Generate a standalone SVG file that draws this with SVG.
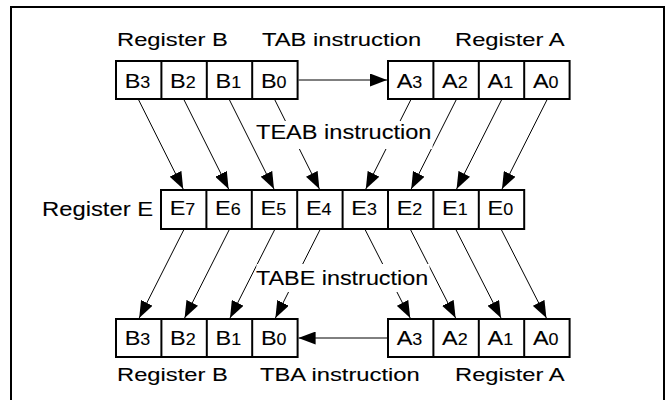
<svg xmlns="http://www.w3.org/2000/svg" width="671" height="400" viewBox="0 0 671 400">
<style>
.frame{fill:none;stroke:#000;stroke-width:2}
.box{fill:#fff;stroke:#000;stroke-width:2}
.div{stroke:#000;stroke-width:2}
text{stroke:#000;stroke-width:0.1}
.lbl{font-family:"Liberation Sans",Arial,sans-serif;font-size:19px;fill:#000}
.ins{font-family:"Liberation Sans",Arial,sans-serif;font-size:20.5px;fill:#000}
.cell{font-family:"Liberation Sans",Arial,sans-serif;font-size:21px;fill:#000;text-anchor:middle}
.sub{font-size:16px}
.ln{stroke:#000;stroke-width:1;fill:none;marker-end:url(#ah)}
.ko{fill:#fff;stroke:none}
</style>
<defs>
<marker id="ah" markerUnits="userSpaceOnUse" markerWidth="17" markerHeight="13" refX="17" refY="6.5" orient="auto">
<path d="M0,0 L17,6.5 L0,13 z" fill="#000"/>
</marker>
</defs>
<rect x="0" y="0" width="671" height="400" fill="#fff"/>
<rect class="frame" x="11" y="7" width="653" height="396"/>

<g id="connectors">
<line class="ln" x1="298.6" y1="80" x2="387" y2="80"/>
<line class="ln" x1="387" y1="338" x2="298.6" y2="338"/>
<line class="ln" x1="138.7" y1="100" x2="183.2" y2="189"/>
<line class="ln" x1="184.1" y1="100" x2="228.6" y2="189"/>
<line class="ln" x1="229.5" y1="100" x2="274" y2="189"/>
<line class="ln" x1="274.9" y1="100" x2="319.4" y2="189"/>
<line class="ln" x1="410.7" y1="100" x2="365.8" y2="189"/>
<line class="ln" x1="456.1" y1="100" x2="411.2" y2="189"/>
<line class="ln" x1="501.5" y1="100" x2="456.6" y2="189"/>
<line class="ln" x1="546.9" y1="100" x2="502" y2="189"/>
<line class="ln" x1="183.7" y1="230" x2="139.2" y2="318"/>
<line class="ln" x1="229.1" y1="230" x2="184.6" y2="318"/>
<line class="ln" x1="274.5" y1="230" x2="230" y2="318"/>
<line class="ln" x1="319.9" y1="230" x2="275.4" y2="318"/>
<line class="ln" x1="365.3" y1="230" x2="410.2" y2="318"/>
<line class="ln" x1="410.7" y1="230" x2="455.6" y2="318"/>
<line class="ln" x1="456.1" y1="230" x2="501" y2="318"/>
<line class="ln" x1="501.5" y1="230" x2="546.4" y2="318"/>
</g>

<g id="labels">
<text class="lbl" transform="translate(117,46) scale(1.25,1)">Register B</text>
<text class="lbl" transform="translate(262,46) scale(1.25,1)">TAB instruction</text>
<text class="lbl" transform="translate(455,46) scale(1.25,1)">Register A</text>
<rect class="ko" x="256.5" y="121" width="176" height="28"/>
<text class="ins" transform="translate(256,139) scale(1.15,1)">TEAB instruction</text>
<text class="lbl" transform="translate(42,215.5) scale(1.19,1)" style="font-size:20px">Register E</text>
<rect class="ko" x="256.5" y="264" width="173" height="28"/>
<text class="ins" transform="translate(256,284.5) scale(1.14,1)">TABE instruction</text>
<text class="lbl" transform="translate(117,381) scale(1.25,1)">Register B</text>
<text class="lbl" transform="translate(260,381) scale(1.25,1)">TBA instruction</text>
<text class="lbl" transform="translate(455,381) scale(1.25,1)">Register A</text>
</g>

<g id="regB-top">
<rect class="box" x="116" y="61" width="181.6" height="38"/>
<line class="div" x1="161.4" y1="61" x2="161.4" y2="99"/>
<line class="div" x1="206.8" y1="61" x2="206.8" y2="99"/>
<line class="div" x1="252.2" y1="61" x2="252.2" y2="99"/>
<text class="cell" transform="translate(137.5,88) scale(1.12,1)">B<tspan class="sub">3</tspan></text>
<text class="cell" transform="translate(182.9,88) scale(1.12,1)">B<tspan class="sub">2</tspan></text>
<text class="cell" transform="translate(228.3,88) scale(1.12,1)">B<tspan class="sub">1</tspan></text>
<text class="cell" transform="translate(273.7,88) scale(1.12,1)">B<tspan class="sub">0</tspan></text>
</g>

<g id="regA-top">
<rect class="box" x="388" y="61" width="181.6" height="38"/>
<line class="div" x1="433.4" y1="61" x2="433.4" y2="99"/>
<line class="div" x1="478.8" y1="61" x2="478.8" y2="99"/>
<line class="div" x1="524.2" y1="61" x2="524.2" y2="99"/>
<text class="cell" transform="translate(409.5,88) scale(1.12,1)">A<tspan class="sub">3</tspan></text>
<text class="cell" transform="translate(454.9,88) scale(1.12,1)">A<tspan class="sub">2</tspan></text>
<text class="cell" transform="translate(500.3,88) scale(1.12,1)">A<tspan class="sub">1</tspan></text>
<text class="cell" transform="translate(545.7,88) scale(1.12,1)">A<tspan class="sub">0</tspan></text>
</g>

<g id="regE">
<rect class="box" x="161" y="190" width="363.2" height="39"/>
<line class="div" x1="206.4" y1="190" x2="206.4" y2="229"/>
<line class="div" x1="251.8" y1="190" x2="251.8" y2="229"/>
<line class="div" x1="297.2" y1="190" x2="297.2" y2="229"/>
<line class="div" x1="342.6" y1="190" x2="342.6" y2="229"/>
<line class="div" x1="388" y1="190" x2="388" y2="229"/>
<line class="div" x1="433.4" y1="190" x2="433.4" y2="229"/>
<line class="div" x1="478.8" y1="190" x2="478.8" y2="229"/>
<text class="cell" transform="translate(182.5,215) scale(1.12,1)">E<tspan class="sub">7</tspan></text>
<text class="cell" transform="translate(227.9,215) scale(1.12,1)">E<tspan class="sub">6</tspan></text>
<text class="cell" transform="translate(273.3,215) scale(1.12,1)">E<tspan class="sub">5</tspan></text>
<text class="cell" transform="translate(318.7,215) scale(1.12,1)">E<tspan class="sub">4</tspan></text>
<text class="cell" transform="translate(364.1,215) scale(1.12,1)">E<tspan class="sub">3</tspan></text>
<text class="cell" transform="translate(409.5,215) scale(1.12,1)">E<tspan class="sub">2</tspan></text>
<text class="cell" transform="translate(454.9,215) scale(1.12,1)">E<tspan class="sub">1</tspan></text>
<text class="cell" transform="translate(500.3,215) scale(1.12,1)">E<tspan class="sub">0</tspan></text>
</g>

<g id="regB-bottom">
<rect class="box" x="116" y="319" width="181.6" height="38"/>
<line class="div" x1="161.4" y1="319" x2="161.4" y2="357"/>
<line class="div" x1="206.8" y1="319" x2="206.8" y2="357"/>
<line class="div" x1="252.2" y1="319" x2="252.2" y2="357"/>
<text class="cell" transform="translate(137.5,345) scale(1.12,1)">B<tspan class="sub">3</tspan></text>
<text class="cell" transform="translate(182.9,345) scale(1.12,1)">B<tspan class="sub">2</tspan></text>
<text class="cell" transform="translate(228.3,345) scale(1.12,1)">B<tspan class="sub">1</tspan></text>
<text class="cell" transform="translate(273.7,345) scale(1.12,1)">B<tspan class="sub">0</tspan></text>
</g>

<g id="regA-bottom">
<rect class="box" x="388" y="319" width="181.6" height="38"/>
<line class="div" x1="433.4" y1="319" x2="433.4" y2="357"/>
<line class="div" x1="478.8" y1="319" x2="478.8" y2="357"/>
<line class="div" x1="524.2" y1="319" x2="524.2" y2="357"/>
<text class="cell" transform="translate(409.5,345) scale(1.12,1)">A<tspan class="sub">3</tspan></text>
<text class="cell" transform="translate(454.9,345) scale(1.12,1)">A<tspan class="sub">2</tspan></text>
<text class="cell" transform="translate(500.3,345) scale(1.12,1)">A<tspan class="sub">1</tspan></text>
<text class="cell" transform="translate(545.7,345) scale(1.12,1)">A<tspan class="sub">0</tspan></text>
</g>
</svg>
